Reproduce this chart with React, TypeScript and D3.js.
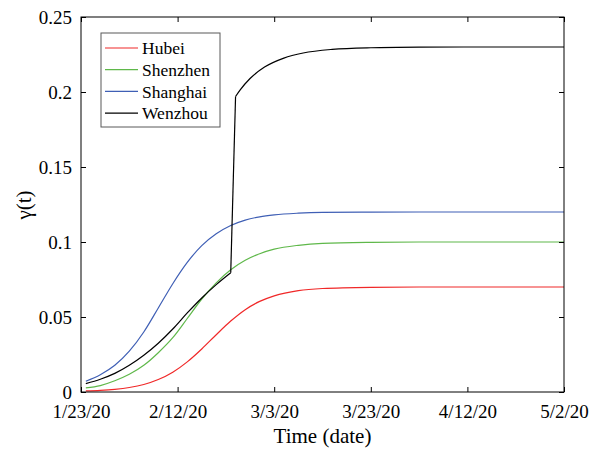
import React, { useEffect, useRef } from "react";
import * as d3 from "d3";

const width = 602;
const height = 450;
const margin = { top: 17, right: 38, bottom: 58, left: 81 };
const font = "'Liberation Serif', 'Times New Roman', Times, 'DejaVu Serif', serif";

const seriesNames = ["Hubei", "Shenzhen", "Shanghai", "Wenzhou"];
const seriesColors = ["#f02828", "#5fb84a", "#3f5fb5", "#000000"];

// days since 1/23/20
const days = [1, 4, 7, 10, 13, 16, 19, 22, 25, 28, 31, 34, 37, 40, 45, 50, 60, 70, 80, 90, 100];
const hubei = [0.0007, 0.0011, 0.0018, 0.003, 0.005, 0.0083, 0.0132, 0.0201, 0.0287, 0.0382, 0.0473, 0.0549, 0.0604, 0.0641, 0.0676, 0.069, 0.0698, 0.07, 0.07, 0.07, 0.07];
const shenzhen = [0.0027, 0.0043, 0.0075, 0.0118, 0.0178, 0.0262, 0.0362, 0.049, 0.062, 0.0728, 0.0815, 0.0878, 0.0922, 0.0952, 0.0978, 0.0991, 0.0998, 0.1, 0.1, 0.1, 0.1];
const shanghai = [0.0072, 0.0115, 0.0178, 0.0272, 0.04, 0.056, 0.0722, 0.0864, 0.0976, 0.1055, 0.111, 0.1146, 0.1168, 0.1181, 0.1192, 0.1197, 0.1199, 0.12, 0.12, 0.12, 0.12];

// Wenzhou: before the jump, and after it
const wenzhouDaysA = [1, 4, 7, 10, 13, 16, 19, 22, 25, 28, 31];
const wenzhouA = [0.0056, 0.0085, 0.0124, 0.0178, 0.0245, 0.0325, 0.042, 0.0527, 0.0627, 0.0716, 0.0795];
const wenzhouDaysB = [32, 33, 35, 38, 42, 46, 52, 60, 70, 80, 100];
const wenzhouB = [0.197, 0.2016, 0.209, 0.2166, 0.2226, 0.226, 0.2284, 0.2295, 0.2299, 0.23, 0.23];

const xTickDays = [0, 20, 40, 60, 80, 100];
const xTickLabels = ["1/23/20", "2/12/20", "3/3/20", "3/23/20", "4/12/20", "5/2/20"];
const yTicks = [0, 0.05, 0.1, 0.15, 0.2, 0.25];
const yTickLabels = ["0", "0.05", "0.1", "0.15", "0.2", "0.25"];

const x = d3.scaleLinear().domain([0, 100]).range([margin.left, width - margin.right]);
const y = d3.scaleLinear().domain([0, 0.25]).range([height - margin.bottom, margin.top]);

const smooth = d3
  .line<[number, number]>()
  .x(d => x(d[0]))
  .y(d => y(d[1]))
  .curve(d3.curveMonotoneX);
const straight = d3
  .line<[number, number]>()
  .x(d => x(d[0]))
  .y(d => y(d[1]));

const zip = (xs: number[], ys: number[]) => xs.map((d, j) => [d, ys[j]] as [number, number]);

const paths = [
  { color: seriesColors[0], d: smooth(zip(days, hubei)) },
  { color: seriesColors[1], d: smooth(zip(days, shenzhen)) },
  { color: seriesColors[2], d: smooth(zip(days, shanghai)) },
  { color: seriesColors[3], d: smooth(zip(wenzhouDaysA, wenzhouA)) },
  {
    color: seriesColors[3],
    d: straight([
      [wenzhouDaysA[wenzhouDaysA.length - 1], wenzhouA[wenzhouA.length - 1]],
      [wenzhouDaysB[0], wenzhouB[0]],
    ]),
  },
  { color: seriesColors[3], d: smooth(zip(wenzhouDaysB, wenzhouB)) },
];

export default function App() {
  const bottomRef = useRef<SVGGElement>(null);
  const leftRef = useRef<SVGGElement>(null);
  const topRef = useRef<SVGGElement>(null);
  const rightRef = useRef<SVGGElement>(null);

  useEffect(() => {
    const style = (g: any) => {
      g.select(".domain").remove();
      g.attr("font-size", null).attr("font-family", null);
      g.selectAll(".tick line").attr("stroke", "#000");
      g.selectAll(".tick text").attr("fill", "#000").style("font-family", font).style("font-size", "19px");
    };
    d3.select(bottomRef.current!)
      .call(
        d3.axisBottom(x)
          .tickValues(xTickDays)
          .tickFormat((_d, i) => xTickLabels[i])
          .tickSizeInner(-5)
          .tickSizeOuter(0)
          .tickPadding(13)
      )
      .call(style);
    d3.select(leftRef.current!)
      .call(
        d3.axisLeft(y)
          .tickValues(yTicks)
          .tickFormat((_d, i) => yTickLabels[i])
          .tickSizeInner(-5)
          .tickSizeOuter(0)
          .tickPadding(9)
      )
      .call(style);
    d3.select(topRef.current!)
      .call(d3.axisTop(x).tickValues(xTickDays).tickFormat(() => "").tickSizeInner(-5).tickSizeOuter(0))
      .call(style);
    d3.select(rightRef.current!)
      .call(d3.axisRight(y).tickValues(yTicks).tickFormat(() => "").tickSizeInner(-5).tickSizeOuter(0))
      .call(style);
  }, []);

  const legendX = 101;
  const legendY = 33;
  const rowH = 21.7;

  return (
    <svg
      width={width}
      height={height}
      style={{ position: "absolute", left: 0, top: 0, background: "#fff", fontFamily: font }}
    >
      <rect x={0} y={0} width={width} height={height} fill="#fff" />
      {paths.map((p, i) => (
        <path key={i} d={p.d || ""} fill="none" stroke={p.color} strokeWidth={1.2} />
      ))}
      <rect
        x={margin.left}
        y={margin.top}
        width={width - margin.left - margin.right}
        height={height - margin.top - margin.bottom}
        fill="none"
        stroke="#000"
        strokeWidth={1}
      />
      <g ref={bottomRef} transform={`translate(0, ${height - margin.bottom})`} />
      <g ref={leftRef} transform={`translate(${margin.left}, 0)`} />
      <g ref={topRef} transform={`translate(0, ${margin.top})`} />
      <g ref={rightRef} transform={`translate(${width - margin.right}, 0)`} />

      <g>
        <rect x={legendX} y={legendY} width={119} height={94} fill="#fff" stroke="#595959" strokeWidth={1} />
        {seriesNames.map((name, i) => {
          const cy = legendY + 15 + i * rowH;
          return (
            <g key={name}>
              <line x1={105} x2={138} y1={cy} y2={cy} stroke={seriesColors[i]} strokeWidth={1.2} />
              <text x={142} y={cy} dy="0.35em" style={{ fontFamily: font, fontSize: "17.5px" }} fill="#000">
                {name}
              </text>
            </g>
          );
        })}
      </g>

      <text
        x={(margin.left + width - margin.right) / 2}
        y={443}
        textAnchor="middle"
        style={{ fontFamily: font, fontSize: "21px" }}
        fill="#000"
      >
        Time (date)
      </text>
      <text
        transform={`translate(31, 205) rotate(-90)`}
        textAnchor="middle"
        style={{ fontFamily: font, fontSize: "21px" }}
        fill="#000"
      >
        γ(t)
      </text>
    </svg>
  );
}
